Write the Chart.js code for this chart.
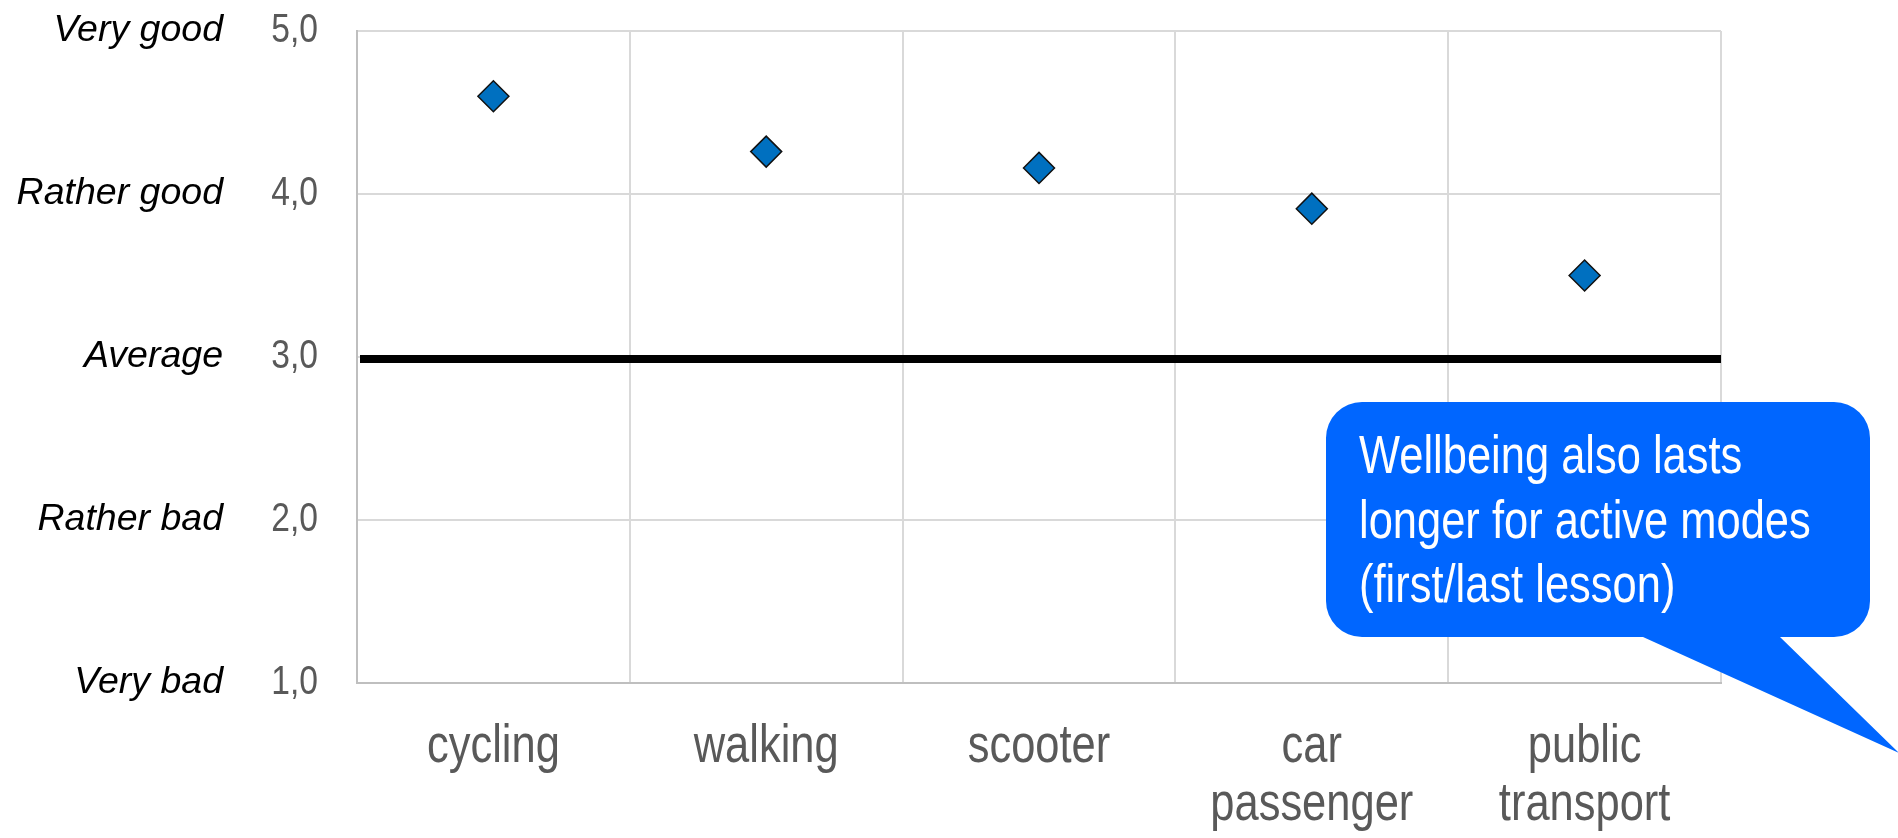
<!DOCTYPE html>
<html>
<head>
<meta charset="utf-8">
<script src="https://cdn.jsdelivr.net/npm/chart.js@4/dist/chart.umd.min.js"></script>
<style>
  html, body { margin: 0; padding: 0; background: #fff; }
  #wrap { width: 1898px; height: 838px; }
</style>
</head>
<body>
<div id="wrap"><canvas id="chart" width="1898" height="838"></canvas></div>
<script>
const categories = [['cycling'], ['walking'], ['scooter'], ['car', 'passenger'], ['public', 'transport']];
const wellbeing = [4.60, 4.26, 4.16, 3.91, 3.50];
const ratingLabels = ['Very bad', 'Rather bad', 'Average', 'Rather good', 'Very good'];
const averageLevel = 3;
const calloutLines = ['Wellbeing also lasts', 'longer for active modes', '(first/last lesson)'];

// no narrow font installed: text set in this family is squeezed horizontally
const NARROW = "'Liberation Sans Narrow', 'Liberation Sans', Arial, sans-serif";
const CONDENSE = 0.82;

const narrowText = {
  id: 'narrowText',
  beforeInit(chart) {
    const ctx = chart.ctx;
    const fill = ctx.fillText.bind(ctx);
    ctx.fillText = function (text, x, y, maxWidth) {
      if (!ctx.font.includes('Narrow')) {
        return maxWidth === undefined ? fill(text, x, y) : fill(text, x, y, maxWidth);
      }
      ctx.save();
      ctx.translate(x, y);
      ctx.scale(CONDENSE, 1);
      fill(text, 0, 0);
      ctx.restore();
    };
  }
};

// black "average" line across the plot at y = averageLevel
const averageLine = {
  id: 'averageLine',
  beforeDatasetsDraw(chart) {
    const { ctx, chartArea } = chart;
    const y = chart.scales.y.getPixelForValue(averageLevel) + 2;
    ctx.save();
    ctx.strokeStyle = '#000';
    ctx.lineWidth = 8;
    ctx.beginPath();
    ctx.moveTo(chartArea.left + 3, y);
    ctx.lineTo(chartArea.right, y);
    ctx.stroke();
    ctx.restore();
  }
};

// speech bubble in the lower right corner
const callout = {
  id: 'callout',
  afterDraw(chart) {
    const ctx = chart.ctx;
    const l = 1326, t = 402, r = 1870, b = 637, rad = 36;
    ctx.save();
    ctx.fillStyle = '#0066FF';
    ctx.beginPath();
    ctx.moveTo(l + rad, t);
    ctx.lineTo(r - rad, t);
    ctx.arcTo(r, t, r, t + rad, rad);
    ctx.lineTo(r, b - rad);
    ctx.arcTo(r, b, r - rad, b, rad);
    ctx.lineTo(1780, b);
    ctx.lineTo(1899, 753);
    ctx.lineTo(1643, b);
    ctx.lineTo(l + rad, b);
    ctx.arcTo(l, b, l, b - rad, rad);
    ctx.lineTo(l, t + rad);
    ctx.arcTo(l, t, l + rad, t, rad);
    ctx.closePath();
    ctx.fill();
    ctx.fillStyle = '#fff';
    ctx.font = '53px ' + NARROW;
    ctx.textBaseline = 'alphabetic';
    ctx.textAlign = 'left';
    calloutLines.forEach((line, i) => ctx.fillText(line, 1359, 473 + i * 64.5));
    ctx.restore();
  }
};

new Chart(document.getElementById('chart'), {
  type: 'line',
  data: {
    labels: categories,
    datasets: [{
      data: wellbeing,
      showLine: false,
      pointStyle: 'rectRot',
      pointRadius: 15.5,
      pointBorderWidth: 1.5,
      pointBackgroundColor: '#0070C0',
      pointBorderColor: '#111'
    }]
  },
  options: {
    responsive: false,
    animation: false,
    events: [],
    layout: { padding: { top: 31, right: 177, left: 0, bottom: 0 } },
    plugins: { legend: { display: false }, tooltip: { enabled: false } },
    scales: {
      x: {
        offset: true,
        grid: { offset: true, color: '#d9d9d9', lineWidth: 2, drawTicks: false },
        border: { color: '#bfbfbf', width: 2 },
        ticks: {
          color: '#595959',
          padding: 36,
          maxRotation: 0,
          autoSkip: false,
          font: { family: NARROW, size: 53, lineHeight: 1.09 }
        },
        afterFit(scale) { scale.height = 155; }
      },
      y: {
        position: 'left',
        weight: 0,
        min: 1,
        max: 5,
        // invisible tick marks keep the labels away from the axis
        grid: { color: '#d9d9d9', lineWidth: 2, drawTicks: true, tickLength: 39, tickColor: 'rgba(0,0,0,0)' },
        border: { color: '#bfbfbf', width: 2 },
        ticks: {
          stepSize: 1,
          color: '#595959',
          padding: 0,
          font: { family: NARROW, size: 41 },
          callback: v => v.toFixed(1).replace('.', ',')
        },
        afterFit(scale) { scale.width = 127; }
      },
      rating: {
        position: 'left',
        weight: 1,
        min: 1,
        max: 5,
        grid: { display: false, drawTicks: false },
        border: { display: false },
        ticks: {
          stepSize: 1,
          color: '#000',
          padding: 7,
          font: { family: "'Liberation Sans', Arial, sans-serif", size: 37.5, style: 'italic' },
          callback: v => ratingLabels[v - 1]
        },
        afterFit(scale) { scale.width = 230; }
      }
    }
  },
  plugins: [narrowText, averageLine, callout]
});
</script>
</body>
</html>
